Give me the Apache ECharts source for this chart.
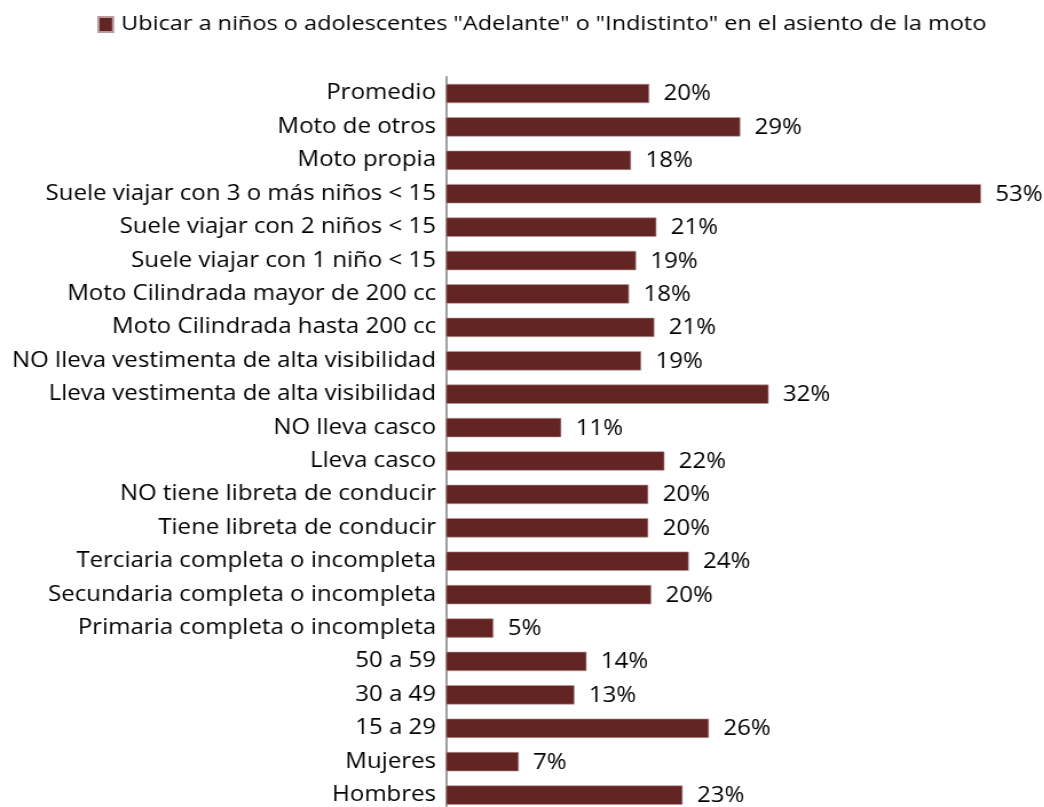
<!DOCTYPE html>
<html>
<head>
<meta charset="utf-8">
<script src="https://cdn.jsdelivr.net/npm/echarts@6/dist/echarts.min.js"></script>
<style>
html,body{margin:0;padding:0;background:#fff;overflow:hidden;}
#wrap{width:1044px;height:807px;overflow:hidden;}
#chart{width:912px;height:807px;transform:scaleX(1.145);transform-origin:0 0;}
</style>
</head>
<body>
<div id="wrap"><div id="chart"></div></div>
<script>
const seriesName = 'Ubicar a niños o adolescentes "Adelante" o "Indistinto" en el asiento de la moto';
const categories = [
  'Promedio',
  'Moto de otros',
  'Moto propia',
  'Suele viajar con 3 o más niños < 15',
  'Suele viajar con 2 niños < 15',
  'Suele viajar con 1 niño < 15',
  'Moto Cilindrada mayor de 200 cc',
  'Moto Cilindrada hasta 200 cc',
  'NO lleva vestimenta de alta visibilidad',
  'Lleva vestimenta de alta visibilidad',
  'NO lleva casco',
  'Lleva casco',
  'NO tiene libreta de conducir',
  'Tiene libreta de conducir',
  'Terciaria completa o incompleta',
  'Secundaria completa o incompleta',
  'Primaria completa o incompleta',
  '50 a 59',
  '30 a 49',
  '15 a 29',
  'Mujeres',
  'Hombres'
];
const values = [20.1, 29.1, 18.3, 52.9, 20.8, 18.8, 18.1, 20.6, 19.3, 31.9, 11.4, 21.6, 20.0, 20.0, 24.0, 20.3, 4.7, 13.9, 12.7, 26.0, 7.2, 23.4];

const FONT = 'Open Sans';
const FS = 21;
const chart = echarts.init(document.getElementById('chart'), null, {renderer: 'canvas', width: 912, height: 807});
chart.setOption({
  animation: false,
  textStyle: {fontFamily: FONT},
  legend: {
    top: 9,
    left: 80,
    itemWidth: 12.8,
    itemHeight: 15,
    itemGap: 4,
    icon: 'rect',
    textStyle: {fontFamily: FONT, fontSize: 20.5, color: '#000', padding: [0, 0, 0, 2]},
    data: [seriesName]
  },
  grid: {left: 389.5, width: 485.9, top: 76.8, height: 735, containLabel: false, outerBoundsMode: 'none'},
  xAxis: {
    type: 'value',
    min: 0,
    max: 55,
    show: false
  },
  yAxis: {
    type: 'category',
    inverse: true,
    data: categories,
    axisLine: {show: true, lineStyle: {color: '#868686', width: 1.6}},
    axisTick: {show: false},
    axisLabel: {fontFamily: FONT, fontSize: FS, color: '#000', margin: 8.7},
    splitLine: {show: false}
  },
  series: [{
    name: seriesName,
    type: 'bar',
    data: values,
    barWidth: 19.3,
    itemStyle: {color: '#632523', borderColor: '#b89a9a', borderWidth: 0.6},
    label: {
      show: true,
      position: 'right',
      distance: 12.5,
      offset: [0, 1],
      fontFamily: FONT,
      fontSize: FS,
      color: '#000',
      formatter: p => Math.round(p.value) + '%'
    }
  }]
});
</script>
</body>
</html>
